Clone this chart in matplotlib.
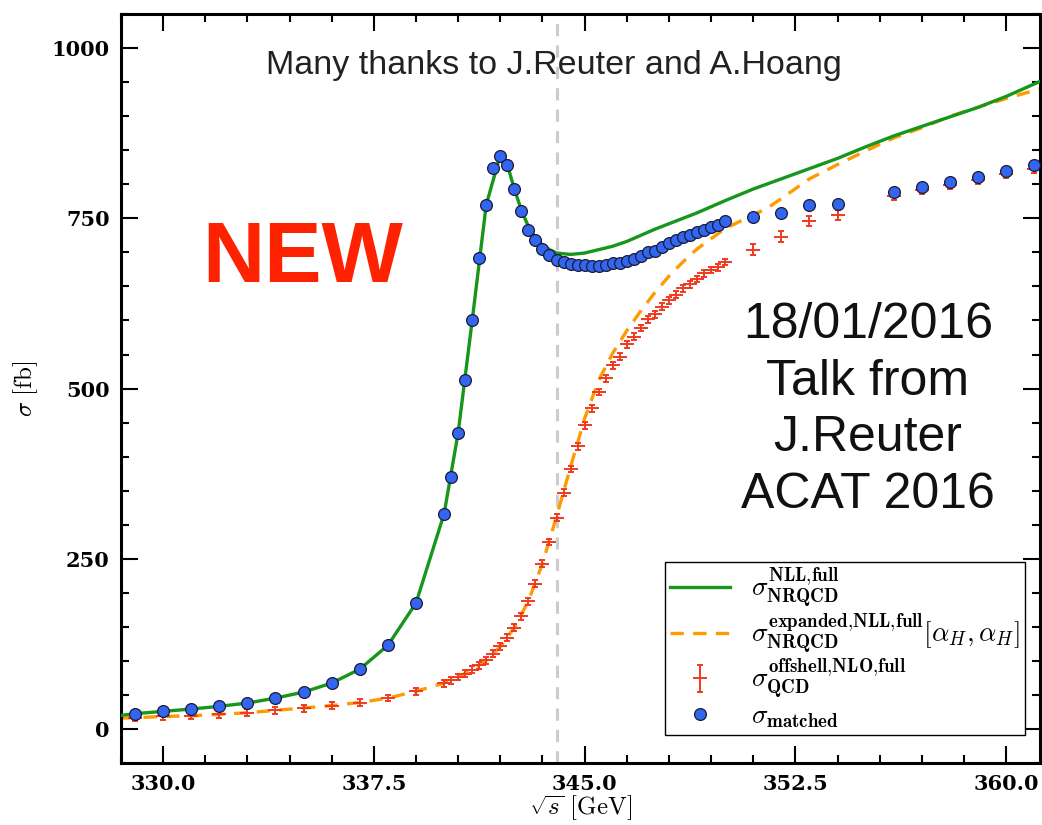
# Sección eficaz top-antitop en el umbral: NRQCD vs QCD offshell
import numpy as np
import matplotlib.pyplot as plt
from matplotlib.ticker import MultipleLocator, FuncFormatter

plt.rcParams['mathtext.fontset'] = 'cm'

# Curva verde: sigma NRQCD NLL full
e_nll = [328.5, 329.0, 330.0, 331.0, 332.0, 333.0, 334.0, 335.0, 336.0, 337.0,
         338.0, 339.0, 340.0, 340.5, 341.0, 341.5, 342.0, 342.25, 342.5, 342.75,
         343.0, 343.25, 343.5, 343.75, 344.0, 344.5, 345.0, 345.5, 346.0, 346.5,
         347.0, 347.5, 348.0, 348.5, 349.0, 349.5, 350.0, 351.0, 352.0, 353.0,
         354.0, 355.0, 356.0, 357.0, 358.0, 359.0, 360.0, 361.2]
s_nll = [20, 22.6, 26, 29.4, 33.4, 38.2, 45.5, 54.3, 67.5, 88,
         123, 185, 316, 435, 600, 770, 843, 829, 793, 762,
         738, 722, 711, 704, 699, 697, 699, 704, 709, 716,
         725, 734, 742, 750, 758, 767, 776, 793, 808, 823,
         838, 855, 871, 885, 899, 913, 929, 951]

# Curva naranja: sigma NRQCD expandida
e_exp = [328.5, 329.0, 330.0, 331.0, 332.0, 333.0, 334.0, 335.0, 336.0, 337.0,
         338.0, 339.0, 340.0, 340.5, 341.0, 341.5, 342.0, 342.5, 343.0, 343.5,
         344.0, 344.5, 345.0, 345.5, 346.0, 346.5, 347.0, 347.5, 348.0, 348.5,
         349.0, 350.0, 351.0, 351.5, 352.0, 353.0, 354.0, 355.0, 356.0, 357.0,
         358.0, 359.0, 360.0, 361.2]
s_exp = [16, 16.7, 18.5, 19.5, 21.5, 24, 27.5, 31, 34.5, 39,
         45.5, 55.5, 67.5, 76.5, 87.5, 101, 121, 149, 188, 243,
         312, 385, 456, 512, 552, 585, 614, 641, 665, 686,
         705, 735, 755, 765, 779, 808, 829, 849, 868, 883,
         900, 913, 926, 940]

# Puntos rojos: QCD offshell NLO
e_qcd = [329.0, 330.0, 331.0, 332.0, 333.0, 334.0, 335.0, 336.0, 337.0, 338.0,
         339.0, 340.0, 340.25, 340.5, 340.75, 341.0, 341.25, 341.5, 341.75, 342.0,
         342.25, 342.5, 342.75, 343.0, 343.25, 343.5, 343.75, 344.0, 344.25, 344.5,
         344.75, 345.0, 345.25, 345.5, 345.75, 346.0, 346.25, 346.5, 346.75, 347.0,
         347.25, 347.5, 347.75, 348.0, 348.25, 348.5, 348.75, 349.0, 349.25, 349.5,
         349.75, 350.0, 351.0, 352.0, 353.0, 354.0, 356.0, 357.0, 358.0, 359.0,
         360.0, 361.0]
s_qcd = [16.7, 18.6, 19.1, 21.6, 24, 27.5, 30.8, 34.3, 38.8, 45.5,
         55.4, 67.5, 71.5, 76.4, 81.4, 87.2, 93.5, 100.9, 110.7, 121.4,
         134.2, 148.9, 165.9, 187.5, 213.5, 242.9, 274.6, 310.4, 347, 382,
         415, 446, 471, 495, 515, 534, 547, 565, 576, 589,
         602, 609, 620, 629.5, 638, 647, 653, 661, 669, 674,
         678, 686, 704, 723, 746, 755, 783, 791, 799, 806,
         815, 823]
err_qcd = [5] * 52 + [8, 8, 7, 7, 6, 6, 6, 6, 6, 6]

# Puntos azules: sigma matched
e_match = [329.0, 330.0, 331.0, 332.0, 333.0, 334.0, 335.0, 336.0, 337.0, 338.0,
           339.0, 340.0, 340.25, 340.5, 340.75, 341.0, 341.25, 341.5, 341.75, 342.0,
           342.25, 342.5, 342.75, 343.0, 343.25, 343.5, 343.75, 344.0, 344.25, 344.5,
           344.75, 345.0, 345.25, 345.5, 345.75, 346.0, 346.25, 346.5, 346.75, 347.0,
           347.25, 347.5, 347.75, 348.0, 348.25, 348.5, 348.75, 349.0, 349.25, 349.5,
           349.75, 350.0, 351.0, 352.0, 353.0, 354.0, 356.0, 357.0, 358.0, 359.0,
           360.0, 361.0]
s_match = [22.6, 26, 29.4, 33.4, 38.2, 45.5, 54.3, 67.5, 88, 123,
           185, 316, 370, 435, 513, 600, 692, 770, 824, 841,
           829, 793, 761, 733, 718, 705, 696, 689, 686, 683,
           682, 681, 680.5, 680.5, 681, 684, 685, 688, 691, 694,
           700, 702, 708, 714, 718, 723, 726, 730, 733, 737,
           740, 746, 752, 758, 769, 770.5, 788.6, 796, 804, 810.6,
           820, 827.7]

umbral = 344.0

fig = plt.figure(figsize=(10.42, 8.25), dpi=100)
ax = fig.add_axes([0.116, 0.075, 0.882, 0.908])

ax.axvline(umbral, color='#cccccc', ls=(0, (4, 3)), lw=2.2, zorder=0)
l_nll, = ax.plot(e_nll, s_nll, color='#17961c', lw=2.4, zorder=3)
l_exp, = ax.plot(e_exp, s_exp, color='#ff9a00', lw=2.4, ls=(0, (4, 2.8)), zorder=2)
l_qcd = ax.errorbar(e_qcd, s_qcd, yerr=err_qcd, fmt='_', color='#f03a1e', ms=10, mew=1.4,
                    elinewidth=1.4, capsize=2.5, capthick=1.4, zorder=2)
l_match, = ax.plot(e_match, s_match, 'o', color='#3366ee', mec='#1a1a3a', mew=0.9, ms=8.5,
                   zorder=4)

ax.set_xlim(328.5, 361.2)
ax.set_ylim(-50, 1050)
ax.xaxis.set_major_locator(MultipleLocator(7.5))
ax.xaxis.set_minor_locator(MultipleLocator(1.5))
ax.yaxis.set_major_locator(MultipleLocator(250))
ax.yaxis.set_minor_locator(MultipleLocator(50))
ax.xaxis.set_major_formatter(FuncFormatter(lambda v, p: '%.1f' % v))
ax.yaxis.set_major_formatter(FuncFormatter(lambda v, p: '%d' % v))
ax.tick_params(which='both', direction='in', top=True, right=True, width=1.5)
ax.tick_params(which='major', length=12, pad=8)
ax.tick_params(which='minor', length=6)
for lab in ax.get_xticklabels() + ax.get_yticklabels():
    lab.set_family('DejaVu Serif')
    lab.set_weight('bold')
    lab.set_fontsize(15)
for sp in ax.spines.values():
    sp.set_linewidth(2.2)

ax.set_xlabel(r'$\sqrt{s}\ [\mathrm{GeV}]$', fontsize=18, labelpad=0)
ax.set_ylabel(r'$\sigma\ [\mathrm{fb}]$', fontsize=18)
ax.yaxis.set_label_coords(-0.088, 0.5)

etiquetas = [r'$\sigma^{\mathbf{NLL{,}full}}_{\mathbf{NRQCD}}$',
             r'$\sigma^{\mathbf{expanded{,}NLL{,}full}}_{\mathbf{NRQCD}}[\alpha_H,\alpha_H]$',
             r'$\sigma^{\mathbf{offshell{,}NLO{,}full}}_{\mathbf{QCD}}$',
             r'$\sigma_{\mathbf{matched}}$']
leg = ax.legend([l_nll, l_exp, l_qcd, l_match], etiquetas,
                loc='lower right', bbox_to_anchor=(0.984, 0.037), borderaxespad=0,
                fontsize=19.5, fancybox=False, edgecolor='black', framealpha=1,
                handlelength=2.2, labelspacing=0.05, borderpad=0.2, handletextpad=0.8)
leg.get_frame().set_linewidth(1.0)

fig.text(0.532, 0.921, 'Many thanks to J.Reuter and A.Hoang', ha='center', va='center',
         fontsize=24.5, family='Liberation Sans', color='#222222')
fig.text(0.290, 0.685, 'NEW', ha='center', va='center', fontsize=62,
         family='Liberation Sans', weight='bold', color='#ff2200')
fig.text(0.833, 0.503, '18/01/2016\nTalk from\nJ.Reuter\nACAT 2016', ha='center',
         va='center', fontsize=36, family='Liberation Sans', color='#111111',
         linespacing=1.3)

fig.savefig('out.png', dpi=100)
plt.close()
